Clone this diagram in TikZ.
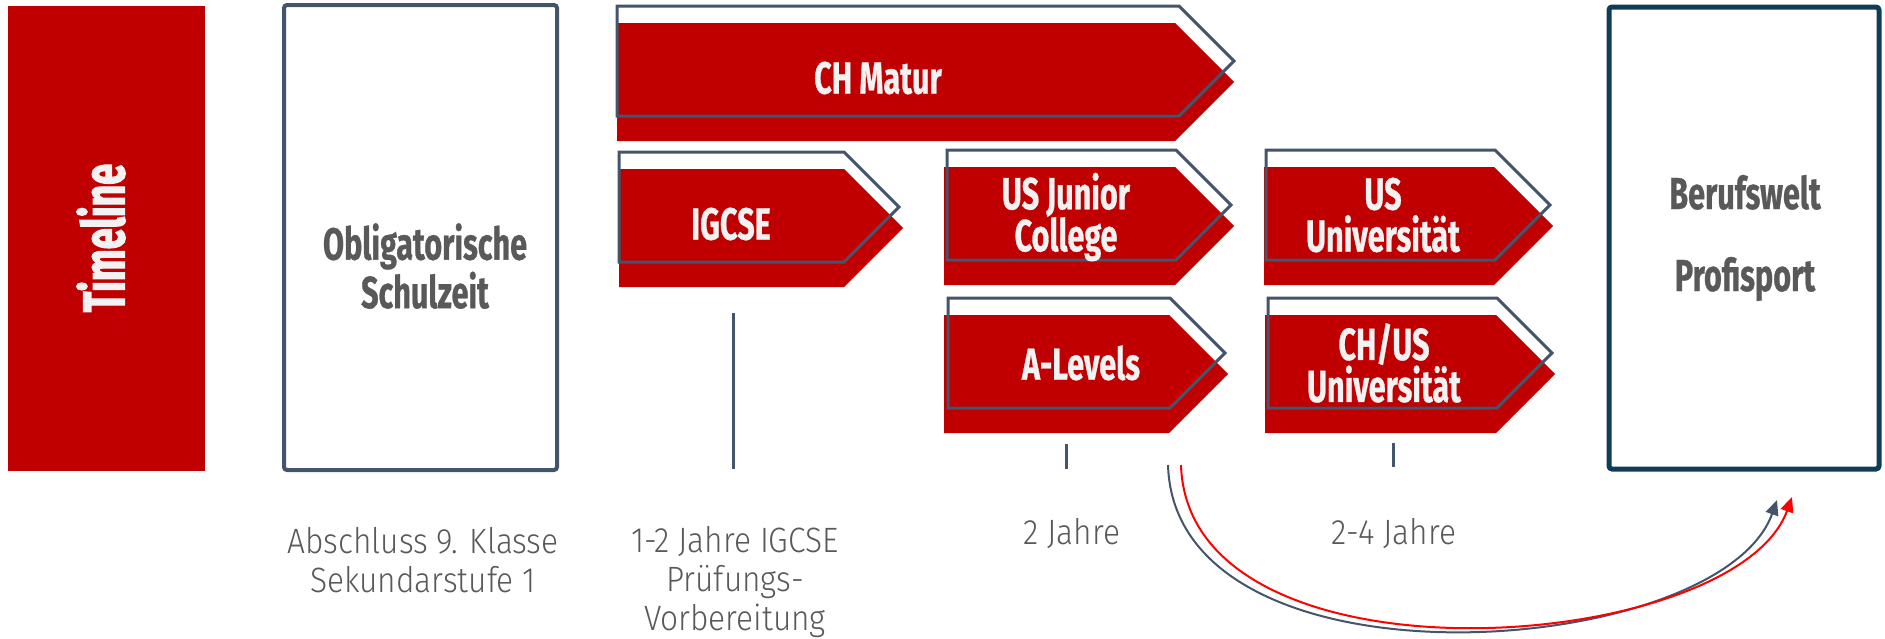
\documentclass[tikz,border=0pt]{standalone}
\usepackage{fontspec}
\usetikzlibrary{arrows.meta}
\newfontfamily\headf[FakeStretch=0.68,FakeBold=0.6]{Fira Sans}
\newfontfamily\tlf[FakeStretch=0.64,FakeBold=2]{Fira Sans}
\newfontfamily\lightf[FakeStretch=0.9]{Fira Sans Light}
\definecolor{redc}{HTML}{C00000}
\definecolor{slatec}{HTML}{44546A}
\definecolor{berufc}{HTML}{0F3D55}
\definecolor{txtgrey}{HTML}{595959}
\definecolor{offw}{HTML}{F2F2F2}
\definecolor{arrred}{HTML}{FF0000}
\tikzset{
  outl/.style={draw=slatec, line width=1.5pt, line join=miter},
  headtxt/.style={font=\headf\bfseries\fontsize{22.5}{21}\selectfont, align=center, inner sep=0pt},
  whitetxt/.style={headtxt, text=offw},
  greytxt/.style={headtxt, text=txtgrey},
  labeltxt/.style={font=\lightf\fontsize{17.6}{19.3}\selectfont, text=txtgrey, align=center, inner sep=0pt},
  tick/.style={draw=slatec, line width=1.5pt},
  curveb/.style={draw=slatec, line width=1pt, -{Triangle[length=7.5pt,width=6.5pt]}},
  curver/.style={draw=arrred, line width=1pt, -{Triangle[length=7.5pt,width=6.5pt]}},
}
% #1 red left, #2 red top, #3 red flat x, #4 outline left, #5 outline flat x
\newcommand\chevshape[5]{%
  \fill[redc] (#1,#2) -- (#3,#2) -- ({#3+59},{#2+59}) -- (#3,{#2+118}) -- (#1,{#2+118}) -- cycle;
  \draw[outl] (#4,{#2-17}) -- (#5,{#2-17}) -- ({#5+55},{#2+38}) -- (#5,{#2+93}) -- (#4,{#2+93}) -- cycle;
}
\begin{document}
\begin{tikzpicture}[x=0.5pt,y=-0.5pt]
\useasboundingbox (0,0) rectangle (1885,638);
% Timeline
\fill[redc] (8,6) rectangle (205,471);
\node[font=\tlf\bfseries\fontsize{29.5}{29}\selectfont, text=offw, rotate=90, inner sep=0pt] (timeline) at (101,238) {Timeline};
% Obligatorische Schulzeit
\draw[draw=slatec, line width=2pt, rounded corners=1.5pt] (284,5) rectangle (557,470);
\node[greytxt] (oblig) at (425,266) {Obligatorische\\Schulzeit};
% Berufswelt
\draw[draw=berufc, line width=2.5pt, rounded corners=1.5pt] (1609,7) rectangle (1879,469);
\node[greytxt] (beruf) at (1745,238) {Berufswelt\\[20pt]Profisport};
% chevrons
\chevshape{617}{23}{1175}{617}{1179}
\node[whitetxt] (chmatur) at (878,78) {CH Matur};
\chevshape{619}{169}{844}{619}{844}
\node[whitetxt] (igcse) at (731,224) {IGCSE};
\chevshape{944}{167}{1175}{947}{1176}
\node[whitetxt] (usjc) at (1066,217) {US Junior\\College};
\chevshape{944}{315}{1169}{948}{1170}
\node[whitetxt] (alevels) at (1081,363) {A-Levels};
\chevshape{1264}{167}{1494}{1266}{1495}
\node[whitetxt] (usuni) at (1383,215) {US\\Universität};
\chevshape{1265}{315}{1496}{1268}{1497}
\node[whitetxt] (chusuni) at (1384,363) {CH/US\\Universität};
% ticks
\coordinate (t1a) at (733,313); \coordinate (t1b) at (733,469);
\coordinate (t2a) at (1066,444); \coordinate (t2b) at (1066,469);
\coordinate (t3a) at (1393,443); \coordinate (t3b) at (1393,467);
\draw[tick] (t1a) -- (t1b);
\draw[tick] (t2a) -- (t2b);
\draw[tick] (t3a) -- (t3b);
% labels
\node[labeltxt] (lab1) at (423,560) {Abschluss 9. Klasse\\Sekundarstufe 1};
\node[labeltxt] (lab2) at (735,582) {1-2 Jahre IGCSE\\Prüfungs-\\Vorbereitung};
\node[labeltxt] (lab3) at (1072,534) {2 Jahre};
\node[labeltxt] (lab4) at (1394,534) {2-4 Jahre};
% curves
\coordinate (cbs) at (1168,465); \coordinate (cbe) at (1777,500);
\coordinate (crs) at (1181,465); \coordinate (cre) at (1792,497);
\draw[curveb] (cbs) .. controls (1175,700) and (1720,660) .. (cbe);
\draw[curver] (crs) .. controls (1188,695) and (1735,655) .. (cre);
\end{tikzpicture}
\end{document}
